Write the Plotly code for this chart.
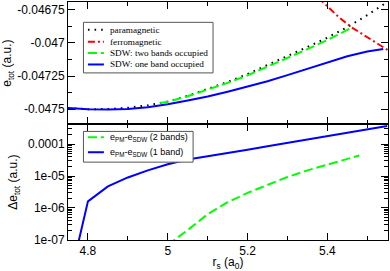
import plotly.graph_objects as go

# ---------------- data ----------------
rs_para = [4.75, 4.80, 4.85, 4.90, 4.95, 5.00, 5.05, 5.10, 5.15, 5.20, 5.25, 5.30, 5.35, 5.40, 5.45, 5.50, 5.55, 5.56]
e_para = [-0.047492, -0.047501, -0.047500, -0.047490, -0.047472, -0.047443, -0.047400, -0.047350, -0.047295,
          -0.047235, -0.047168, -0.047100, -0.047030, -0.046960, -0.046880, -0.046790, -0.046690, -0.046670]

rs_ferro = [5.35, 5.40, 5.43, 5.46, 5.50, 5.55, 5.56]
e_ferro = [-0.046580, -0.046725, -0.046808, -0.046880, -0.046955, -0.047050, -0.047070]

rs_sdw2 = [4.98, 5.00, 5.05, 5.10, 5.15, 5.20, 5.25, 5.30, 5.35, 5.40, 5.45, 5.46]
e_sdw2 = [-0.047455, -0.047445, -0.047403, -0.047355, -0.047302, -0.047245, -0.047180, -0.047115, -0.047047,
          -0.046978, -0.046903, -0.046886]

rs_sdw1 = [4.75, 4.80, 4.85, 4.90, 4.95, 5.00, 5.05, 5.10, 5.15, 5.20, 5.25, 5.30, 5.35, 5.40, 5.45, 5.50, 5.54]
e_sdw1 = [-0.047492, -0.047501, -0.047503, -0.047499, -0.047486, -0.047464, -0.047435, -0.047405, -0.047369,
          -0.047331, -0.047290, -0.047243, -0.047195, -0.047145, -0.047100, -0.047065, -0.047045]

rs_d2 = [5.00, 5.05, 5.10, 5.15, 5.20, 5.25, 5.30, 5.35, 5.40, 5.45, 5.48]
de_2bands = [6.9e-8, 2.0e-7, 6.3e-7, 1.5e-6, 2.95e-6, 5.25e-6, 9.3e-6, 1.5e-5, 2.3e-5, 3.4e-5, 4.4e-5]

rs_d1 = [4.75, 4.80, 4.85, 4.90, 4.95, 5.00, 5.05, 5.10, 5.15, 5.20, 5.25, 5.30, 5.35, 5.40, 5.45, 5.50, 5.55]
de_1band = [3.3e-9, 1.6e-6, 4.7e-6, 9.0e-6, 1.5e-5, 2.34e-5, 3.3e-5, 4.12e-5, 5.26e-5, 6.71e-5, 8.57e-5,
            1.09e-4, 1.40e-4, 1.78e-4, 2.28e-4, 2.90e-4, 3.71e-4]

top_yticks = [-0.04675, -0.047, -0.04725, -0.0475]
top_yticktext = ["-0.04675", "-0.047", "-0.04725", "-0.0475"]
bot_yticks = [1e-4, 1e-5, 1e-6, 1e-7]
bot_yticktext = ["0.0001", "1e-05", "1e-06", "1e-07"]

legend_top = ["paramagnetic", "ferromagnetic", "SDW: two bands occupied", "SDW: one band occupied"]
legend_bot = ["e<sub>PM</sub>-e<sub>SDW</sub> (2 bands)", "e<sub>PM</sub>-e<sub>SDW</sub> (1 band)"]

# ---------------- styles ----------------
BLUE = "#0000ff"
GREEN = "#00ff00"
RED = "#ff0000"
BLACK = "#000000"
DOT = "1.6px,5px"
DASHDOT = "7px,3px,2px,3px"
DASH = "9px,4px"

W, H = 390, 271
ML, MR, MT, MB = 68, 1, 1, 30
PW, PH = W - ML - MR, H - MT - MB
SPLIT = 116.7 / PH


def px(x):
    return (x - ML) / PW


def py(y):
    return (H - MB - y) / PH


fig = go.Figure()

# top panel
fig.add_trace(go.Scatter(x=rs_para, y=e_para, xaxis="x2", yaxis="y2", mode="lines",
                         line=dict(color=BLACK, width=2, dash=DOT), showlegend=False))
fig.add_trace(go.Scatter(x=rs_ferro, y=e_ferro, xaxis="x2", yaxis="y2", mode="lines",
                         line=dict(color=RED, width=2, dash=DASHDOT), showlegend=False))
fig.add_trace(go.Scatter(x=rs_sdw2, y=e_sdw2, xaxis="x2", yaxis="y2", mode="lines",
                         line=dict(color=GREEN, width=2, dash=DASH), showlegend=False))
fig.add_trace(go.Scatter(x=rs_sdw1, y=e_sdw1, xaxis="x2", yaxis="y2", mode="lines",
                         line=dict(color=BLUE, width=2), showlegend=False))

# bottom panel
fig.add_trace(go.Scatter(x=rs_d2, y=de_2bands, xaxis="x", yaxis="y", mode="lines",
                         line=dict(color=GREEN, width=2, dash=DASH), showlegend=False))
fig.add_trace(go.Scatter(x=rs_d1, y=de_1band, xaxis="x", yaxis="y", mode="lines",
                         line=dict(color=BLUE, width=2), showlegend=False))

TICKFONT = dict(family="Arial, Liberation Sans, sans-serif", size=12, color="black")
TITLEFONT = dict(family="Arial, Liberation Sans, sans-serif", size=12, color="black")

common_x = dict(range=[4.75, 5.552], dtick=0.2, tick0=4.8, ticks="inside", ticklen=7, tickwidth=1,
                tickcolor="black", showline=True, linecolor="black", linewidth=1, mirror="allticks",
                showgrid=False, zeroline=False,
                minor=dict(dtick=0.1, tick0=4.8, ticks="inside", ticklen=4, tickcolor="black", showgrid=False))

minor_log = [m * 10.0 ** e for e in range(-8, -2) for m in range(2, 10)]

fig.update_layout(
    width=W, height=H,
    margin=dict(l=ML, r=MR, t=MT, b=MB),
    paper_bgcolor="white", plot_bgcolor="white",
    xaxis=dict(**common_x, anchor="y", domain=[0, 1], tickfont=TICKFONT,
               title=dict(text="r<sub>s</sub> (a<sub>0</sub>)", font=TITLEFONT, standoff=3)),
    xaxis2=dict(**common_x, anchor="y2", matches="x", showticklabels=False),
    yaxis=dict(type="log", range=[-7.01, -3.375], domain=[0, SPLIT], anchor="x",
               tickvals=bot_yticks, ticktext=bot_yticktext, tickfont=TICKFONT,
               ticks="inside", ticklen=7, tickcolor="black", showline=True, linecolor="black",
               linewidth=1, mirror="allticks", showgrid=False, zeroline=False,
               minor=dict(tickvals=minor_log, ticks="inside", ticklen=4, tickcolor="black", showgrid=False),
               title=dict(text="Δe<sub>tot</sub> (a.u.)", font=TITLEFONT, standoff=7)),
    yaxis2=dict(range=[-0.047615, -0.04669], domain=[SPLIT, 1], anchor="x2",
                tickvals=top_yticks, ticktext=top_yticktext, tickfont=TICKFONT,
                ticks="inside", ticklen=7, tickcolor="black", showline=True, linecolor="black",
                linewidth=1, mirror="allticks", showgrid=False, zeroline=False,
                minor=dict(dtick=0.000125, tick0=-0.0475, ticks="inside", ticklen=4, tickcolor="black",
                           showgrid=False),
                title=dict(text="e<sub>tot</sub> (a.u.)", font=TITLEFONT, standoff=7)),
    showlegend=False,
)

shapes = []
annotations = []

# top legend box
shapes.append(dict(type="rect", xref="paper", yref="paper", x0=px(83.5), x1=px(213.5), y0=py(72.5), y1=py(21.5),
                   line=dict(color="#555555", width=1), fillcolor="white", layer="above"))
top_styles = [(BLACK, DOT), (RED, DASHDOT), (GREEN, DASH), (BLUE, "solid")]
top_rows = [29, 41, 52.5, 64]
SERIF = dict(family="Liberation Serif, Times New Roman, serif", size=9.2, color="black")
for (col, ds), yy, txt in zip(top_styles, top_rows, legend_top):
    shapes.append(dict(type="line", xref="paper", yref="paper", x0=px(88), x1=px(104), y0=py(yy), y1=py(yy),
                       line=dict(color=col, width=2, dash=ds), layer="above"))
    annotations.append(dict(x=px(108), y=py(yy), xref="paper", yref="paper", text=txt, showarrow=False,
                            xanchor="left", yanchor="middle", font=SERIF))

# bottom legend box
shapes.append(dict(type="rect", xref="paper", yref="paper", x0=px(83.5), x1=px(193.5), y0=py(162.5), y1=py(131.5),
                   line=dict(color="#555555", width=1), fillcolor="white", layer="above"))
bot_styles = [(GREEN, DASH), (BLUE, "solid")]
bot_rows = [137.5, 152.5]
SANS = dict(family="Arial, Liberation Sans, sans-serif", size=9, color="black")
for (col, ds), yy, txt in zip(bot_styles, bot_rows, legend_bot):
    shapes.append(dict(type="line", xref="paper", yref="paper", x0=px(88), x1=px(104), y0=py(yy), y1=py(yy),
                       line=dict(color=col, width=2, dash=ds), layer="above"))
    annotations.append(dict(x=px(108), y=py(yy), xref="paper", yref="paper", text=txt, showarrow=False,
                            xanchor="left", yanchor="middle", font=SANS))

fig.update_layout(shapes=shapes, annotations=annotations)

fig.write_html("out.html", config={"displayModeBar": False},
               post_script="document.body.style.margin='0';")
